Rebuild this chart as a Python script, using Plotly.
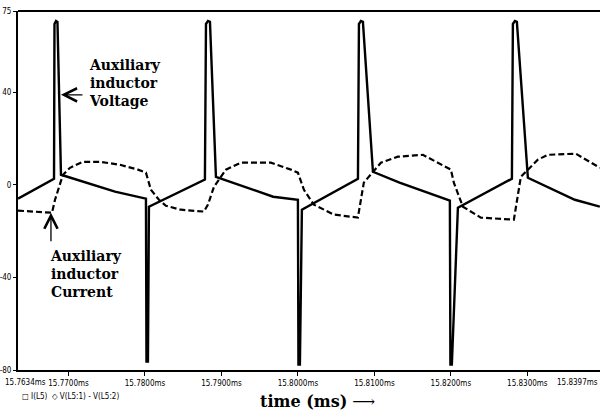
import plotly.graph_objects as go

# Time in ms
v_time = [15.7634, 15.76811, 15.76817, 15.76837, 15.76856, 15.76902, 15.77608, 15.78013,
          15.78020, 15.78039, 15.78052, 15.78784, 15.78798, 15.78824, 15.78850, 15.78928,
          15.79676, 15.80000, 15.80007, 15.80026, 15.80052, 15.80785, 15.80798, 15.80824,
          15.80850, 15.80981, 15.81329, 15.81987, 15.81994, 15.82013, 15.82092, 15.82798,
          15.82811, 15.82837, 15.82863, 15.83007, 15.83621, 15.83948]
# V(L5:1) - V(L5:2)
v_vals = [-6.0, 2.6, 69.4, 70.7, 70.3, 4.3, -3.0, -6.0,
          -76.3, -76.3, -9.5, 2.2, 69.4, 70.7, 70.3, 3.4,
          -5.2, -6.5, -77.6, -77.6, -10.8, 2.6, 69.4, 70.7,
          70.3, 5.6, 0.9, -6.9, -77.6, -77.6, -9.9, 2.6,
          69.4, 70.7, 70.3, 3.0, -6.5, -9.5]

i_time = [15.7634, 15.76785, 15.76824, 15.76928, 15.77020, 15.77190, 15.77412, 15.77673,
          15.77909, 15.78013, 15.78078, 15.78183, 15.78274, 15.78470, 15.78771, 15.78824,
          15.78902, 15.79059, 15.79255, 15.79647, 15.79909, 15.80000, 15.80079, 15.80209,
          15.80471, 15.80784, 15.80862, 15.81085, 15.81307, 15.81634, 15.82000, 15.82039,
          15.82157, 15.82392, 15.82824, 15.82915, 15.83137, 15.83268, 15.83634, 15.83948]
# I(L5)
i_vals = [-11.2, -12.1, -6.5, 4.3, 7.3, 9.9, 9.9, 8.6,
          6.5, 5.2, -2.2, -6.5, -9.1, -10.8, -11.6, -8.6,
          -0.9, 6.5, 9.5, 9.5, 6.5, 5.2, -2.2, -8.6,
          -12.9, -14.2, 0.9, 9.5, 12.1, 12.9, 6.5, 0.9,
          -9.5, -14.2, -15.1, 3.4, 10.8, 12.9, 13.4, 7.3]

x_tickvals = [15.77, 15.78, 15.79, 15.80, 15.81, 15.82, 15.83]
x_ticktext = ["15.7700ms", "15.7800ms", "15.7900ms", "15.8000ms",
              "15.8100ms", "15.8200ms", "15.8300ms"]
x_first_label = "15.7634ms"
x_last_label = "15.8397ms"
y_tickvals = [75, 40, 0, -40, -80]
y_ticktext = ["75", "40", "0", "-40", "-80"]

tick_font = dict(family="DejaVu Sans Condensed, Liberation Sans Narrow, DejaVu Sans", size=8, color="black")
label_font = dict(family="DejaVu Serif", size=14, color="black")

fig = go.Figure()
fig.add_trace(go.Scatter(x=i_time, y=i_vals, mode="lines",
                         line=dict(color="black", width=2.2, dash="6px,3px"),
                         name="I(L5)", hoverinfo="skip"))
fig.add_trace(go.Scatter(x=v_time, y=v_vals, mode="lines",
                         line=dict(color="black", width=2.4),
                         name="V(L5:1) - V(L5:2)", hoverinfo="skip"))

fig.update_layout(
    width=600, height=414,
    margin=dict(l=18, r=0, t=11, b=44),
    paper_bgcolor="white", plot_bgcolor="white",
    showlegend=False,
    xaxis=dict(range=[15.7634, 15.8395], tickvals=x_tickvals, ticktext=x_ticktext,
               showgrid=False, zeroline=False, showline=True, linecolor="black", linewidth=2,
               ticks="outside", ticklen=4, tickcolor="black", tickfont=tick_font),
    yaxis=dict(range=[-80, 75], tickvals=y_tickvals, ticktext=y_ticktext,
               showgrid=False, zeroline=False, showline=True, linecolor="black", linewidth=2,
               ticks="outside", ticklen=3, tickcolor="black", tickfont=tick_font),
    shapes=[dict(type="line", xref="paper", yref="paper", x0=0, x1=1, y0=1, y1=1,
                 line=dict(color="black", width=2))],
)

fig.add_annotation(xref="paper", yref="paper", x=-0.026, y=-0.017, xanchor="left", yanchor="top",
                   text=x_first_label, showarrow=False, font=tick_font)
fig.add_annotation(xref="paper", yref="paper", x=1, y=-0.017, xanchor="right", yanchor="top",
                   text=x_last_label, showarrow=False, font=tick_font)

fig.add_annotation(xref="paper", yref="paper", x=0.1186, y=0.80, xanchor="left", yanchor="middle",
                   align="left", showarrow=False, font=label_font,
                   text="<b>Auxiliary<br>inductor<br>Voltage</b>")
fig.add_annotation(x=15.76902, y=38.8, ax=23, ay=0, text="", showarrow=True,
                   arrowhead=5, arrowsize=2, arrowwidth=1.3, arrowcolor="black")

fig.add_annotation(xref="paper", yref="paper", x=0.0515, y=0.267, xanchor="left", yanchor="middle",
                   align="left", showarrow=False, font=label_font,
                   text="<b>Auxiliary<br>inductor<br>Current</b>")
fig.add_annotation(x=15.76771, y=-12.1, ax=0, ay=30, text="", showarrow=True,
                   arrowhead=5, arrowsize=2, arrowwidth=1.3, arrowcolor="black")

fig.add_annotation(xref="paper", yref="paper", x=0.003, y=-0.075, xanchor="left", yanchor="middle",
                   showarrow=False, font=dict(family="DejaVu Sans Condensed, DejaVu Sans", size=8, color="black"),
                   text="□ I(L5)  ◇ V(L5:1) - V(L5:2)")
fig.add_annotation(xref="paper", yref="paper", x=0.412, y=-0.089, xanchor="left", yanchor="middle",
                   showarrow=False, font=dict(family="DejaVu Serif", size=16, color="black"),
                   text="<b>time (ms)</b> ⟶")

fig.write_html("out.html")
